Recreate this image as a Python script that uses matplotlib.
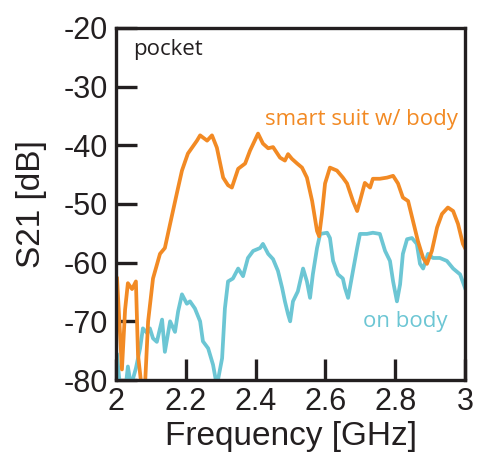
import matplotlib
matplotlib.use("Agg")
import matplotlib.pyplot as plt

freq_suit = [2.003, 2.017, 2.026, 2.034, 2.046, 2.057, 2.063, 2.072, 2.083, 2.092, 2.106, 2.126, 2.140, 2.155,
             2.175, 2.189, 2.206, 2.232, 2.241, 2.261, 2.275, 2.289, 2.307, 2.321, 2.332, 2.350, 2.370, 2.384,
             2.407, 2.421, 2.436, 2.450, 2.470, 2.484, 2.493, 2.504, 2.519, 2.533, 2.547, 2.562, 2.576, 2.582,
             2.590, 2.599, 2.613, 2.633, 2.650, 2.662, 2.679, 2.691, 2.699, 2.713, 2.728, 2.736, 2.756, 2.777,
             2.794, 2.808, 2.822, 2.837, 2.851, 2.865, 2.880, 2.891, 2.905, 2.920, 2.934, 2.951, 2.966, 2.980,
             2.994, 3.000]
s21_suit = [-62.7, -78.2, -68, -63.5, -64.5, -63.2, -75.7, -80.5, -81, -70, -62.7, -58.5, -57.5, -53.4,
            -48, -44.3, -41.4, -39.2, -38.3, -39.2, -38.3, -40.4, -45.5, -46.8, -47.2, -44, -43.1, -40.9,
            -38, -39.7, -40.5, -40.3, -42.1, -42.6, -41.5, -42.3, -43.1, -43.8, -45.5, -49.5, -54.6, -55.5,
            -51.7, -46.5, -43.8, -44.3, -45.5, -46.5, -49.5, -51.2, -49.5, -46.4, -47.2, -45.7, -45.7, -45.5,
            -45.2, -46.5, -48.9, -49.5, -52.9, -56.3, -59.2, -60.2, -58, -54, -51.7, -50.6, -51.2, -53.4,
            -56.8, -57.5]

freq_body = [2.003, 2.011, 2.029, 2.034, 2.043, 2.057, 2.069, 2.077, 2.089, 2.097, 2.106, 2.117, 2.132, 2.140,
             2.155, 2.169, 2.178, 2.189, 2.203, 2.212, 2.226, 2.241, 2.249, 2.264, 2.278, 2.289, 2.304, 2.312,
             2.321, 2.335, 2.350, 2.364, 2.378, 2.393, 2.413, 2.421, 2.436, 2.450, 2.464, 2.476, 2.484, 2.493,
             2.499, 2.507, 2.521, 2.536, 2.547, 2.556, 2.564, 2.576, 2.585, 2.605, 2.613, 2.622, 2.636, 2.650,
             2.656, 2.665, 2.679, 2.691, 2.699, 2.719, 2.736, 2.756, 2.771, 2.785, 2.794, 2.805, 2.814, 2.822,
             2.834, 2.848, 2.862, 2.871, 2.880, 2.894, 2.908, 2.928, 2.948, 2.966, 2.986, 3.000]
s21_body = [-75.7, -81, -80.5, -77.7, -81, -78, -74.6, -71.2, -72, -71.2, -72.9, -73.5, -69.7, -75.2,
            -70, -71.8, -68.3, -65.4, -67, -66.6, -67.8, -70, -73.4, -74.6, -77.4, -81, -76.3, -67.8,
            -63.2, -62.7, -61, -62.3, -59.2, -58, -57.5, -56.8, -58.5, -59.4, -61.4, -64.3, -66.6, -68.8,
            -70, -66.6, -64.9, -61, -63.2, -66, -62, -57.5, -55.1, -54.9, -55.8, -59.7, -62, -62.7,
            -64.3, -66, -61.4, -57.5, -55.1, -55.1, -54.9, -55.1, -58, -59.7, -63.2, -66.6, -63.7, -58.5,
            -56, -55.8, -56.8, -60.2, -61, -58.5, -59.2, -59.2, -59.7, -61, -62, -64.3]

x_ticks = [2, 2.2, 2.4, 2.6, 2.8, 3]
x_ticklabels = ["2", "2.2", "2.4", "2.6", "2.8", "3"]
y_ticks = [-80, -70, -60, -50, -40, -30, -20]
y_ticklabels = ["-80", "-70", "-60", "-50", "-40", "-30", "-20"]

ORANGE = "#F28A24"
CYAN = "#6CC6D4"
DARK = "#231F20"

plt.rcParams['font.family'] = ['Liberation Sans', 'DejaVu Sans']

fig = plt.figure(figsize=(4.78, 4.61), dpi=100)
ax = fig.add_axes([0.2427, 0.1757, 0.7301, 0.7636])

ax.plot(freq_body, s21_body, color=CYAN, lw=2.7, solid_joinstyle='round')
ax.plot(freq_suit, s21_suit, color=ORANGE, lw=2.7, solid_joinstyle='round')

ax.set_xlim(2, 3)
ax.set_ylim(-80, -20)
ax.set_xticks(x_ticks)
ax.set_xticklabels(x_ticklabels)
ax.set_yticks(y_ticks)
ax.set_yticklabels(y_ticklabels)
ax.tick_params(direction='in', length=15, width=2.4, labelsize=22, color=DARK, labelcolor=DARK)
ax.tick_params(axis='y', pad=6)
ax.tick_params(axis='x', pad=5)
for s in ax.spines.values():
    s.set_linewidth(2.4)
    s.set_color(DARK)

ax.set_xlabel("Frequency [GHz]", fontsize=24, color=DARK, labelpad=3)
ax.set_ylabel("S21 [dB]", fontsize=24, color=DARK, labelpad=12)

ax.text(0.049, 0.94, "pocket", transform=ax.transAxes, fontsize=16, color=DARK,
        family=['Open Sans', 'DejaVu Sans'], va='center', ha='left')
ax.text(0.98, 0.739, "smart suit w/ body", transform=ax.transAxes, fontsize=16, color=ORANGE,
        family=['Open Sans', 'DejaVu Sans'], va='center', ha='right')
ax.text(0.951, 0.165, "on body", transform=ax.transAxes, fontsize=16, color=CYAN,
        family=['Open Sans', 'DejaVu Sans'], va='center', ha='right')

fig.savefig("out.png", dpi=100)
